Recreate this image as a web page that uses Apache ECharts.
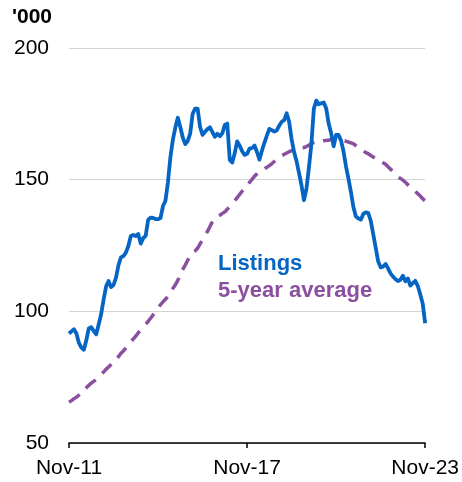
<!DOCTYPE html>
<html>
<head>
<meta charset="utf-8">
<script src="https://cdn.jsdelivr.net/npm/echarts@6/dist/echarts.min.js"></script>
<style>
  html, body { margin: 0; padding: 0; background: #fff; }
  #chart { width: 462px; height: 482px; }
</style>
</head>
<body>
<div id="chart"></div>
<script>
// tick labels for the x axis (every 72 months)
const xTickLabels = ['Nov-11', 'Nov-17', 'Nov-23']
const yTicks = [50, 100, 150, 200]

// monthly listings, '000, Nov-11 .. Nov-23
const listings = [
  91.6, 92.4, 93.2, 91.6, 88, 86.2, 85.4, 89, 93.5, 94, 92.5, 91.3,
  95, 99, 104.5, 109.5, 111.5, 109.2, 110, 112.8, 117.5, 120.5, 121, 122.3,
  124.8, 128.6, 129, 128.6, 129.4, 125.7, 127.8, 128.7, 134.7, 135.6, 135.5, 135,
  135, 135.4, 140, 142, 149, 158.5, 165.2, 169.8, 173.5, 170, 166, 163.5,
  164.7, 167.5, 175, 177, 177, 170, 167, 168.2, 169.2, 169.9, 168, 166.3,
  167.4, 166.5, 167.6, 170.8, 171.3, 157.5, 156.5, 160, 164.5, 163, 160.8, 159.4,
  159.8, 161.8, 162, 163, 160.5, 157.6, 161, 164, 166.7, 169.3, 168.8, 168.3,
  168.7, 170.5, 172, 172.6, 175.2, 172, 165.4, 160.5, 157, 152.5, 147.9, 142.2,
  146.5, 154.5, 163.5, 177, 180, 178.6, 179, 179.3, 177, 171.3, 167.6, 162.7,
  167, 167, 164.8, 160.7, 155, 150.3, 145.3, 139.5, 136, 135.3, 134.8, 137,
  137.6, 137.3, 134.4, 129.3, 124.2, 119, 116.7, 117, 118, 116.3, 114.4, 113.2,
  112.2, 111.5, 112, 113.5, 111.4, 112.5, 109.8, 110.7, 111.6, 109.7, 106.5, 103,
  95.5
]

// 5-year average, '000
const fiveYearAvg = [
  65.5, 66.1, 66.8, 67.4, 68.2, 69.2, 70.1, 71, 71.9, 72.7, 73.4, 74.1,
  75, 76, 77, 78, 78.9, 79.8, 80.7, 81.7, 82.8, 84, 85, 86.1,
  87.3, 88.4, 89.5, 90.6, 91.8, 92.9, 94, 95.1, 96.2, 97.4, 98.7, 100,
  101.3, 102.5, 103.6, 104.6, 105.7, 107.2, 108.7, 110.1, 111.8, 114, 115.9, 117.6,
  119.4, 121.1, 122.3, 123, 124, 125.6, 127.2, 128.8, 130.4, 132.2, 134, 135.2,
  135.9, 136.5, 137.2, 137.8, 138.8, 139.8, 140.8, 142, 143.2, 144.4, 145.6, 146.7,
  147.8, 149, 150.1, 151.3, 152.2, 153, 153.5, 154.1, 154.7, 155.3, 156.1, 156.9,
  157.8, 158.6, 159.1, 159.6, 160.1, 160.6, 161, 161.4, 161.6, 161.8, 162, 162.2,
  162.6, 163.1, 163.7, 164.1, 164.3, 164.4, 164.6, 164.8, 164.9, 165, 165.3, 165.5,
  165.7, 165.5, 165.2, 164.9, 164.6, 164.3, 164, 163.6, 162.9, 162.2, 161.5, 160.9,
  160.3, 159.8, 159.2, 158.6, 158, 157.4, 156.9, 156.4, 155.8, 154.9, 154, 153.1,
  152.1, 151, 150.5, 149.8, 149, 148.1, 147.3, 146.5, 145.6, 144.7, 143.8, 142.8,
  142
]

const blue = '#0565c4'
const purple = '#8a4f9e'
const font = 'Arial, "Liberation Sans", sans-serif'

const chart = echarts.init(document.getElementById('chart'))
const option = {
  animation: false,
  textStyle: { fontFamily: font },
  grid: { left: 69, right: 36, top: 48, bottom: 39 },
  graphic: [
    { type: 'text', left: 12, top: 7,
      style: { text: "'000", font: 'bold 21px ' + font, fill: '#000' } },
    { type: 'text', left: 218, top: 253,
      style: { text: 'Listings', font: 'bold 22px ' + font, fill: blue } },
    { type: 'text', left: 218, top: 280,
      style: { text: '5-year average', font: 'bold 22px ' + font, fill: purple } },
  ],
  xAxis: {
    type: 'value',
    min: 0,
    max: 144,
    interval: 72,
    axisLine: { show: true, lineStyle: { color: '#000', width: 1.5 } },
    axisTick: { show: true, length: 5, lineStyle: { color: '#000', width: 1.5 } },
    splitLine: { show: false },
    axisLabel: {
      color: '#000',
      fontSize: 21,
      margin: 15,
      formatter: (v) => xTickLabels[Math.round(v / 72)],
    },
  },
  yAxis: {
    type: 'value',
    min: yTicks[0],
    max: yTicks[yTicks.length - 1],
    interval: 50,
    axisLine: { show: false },
    axisTick: { show: false },
    splitLine: { lineStyle: { color: '#d4d4d4', width: 1.2 } },
    axisLabel: { color: '#000', fontSize: 21, margin: 20 },
  },
  series: [
    {
      name: '5-year average',
      type: 'line',
      data: fiveYearAvg.map((v, i) => [i, v]),
      showSymbol: false,
      smooth: true,
      lineStyle: { color: purple, width: 3.5, type: [13, 9] },
      z: 2,
    },
    {
      name: 'Listings',
      type: 'line',
      data: listings.map((v, i) => [i, v]),
      showSymbol: false,
      lineStyle: { color: blue, width: 3.8, join: 'round' },
      z: 3,
    },
  ],
}
chart.setOption(option)
</script>
</body>
</html>
